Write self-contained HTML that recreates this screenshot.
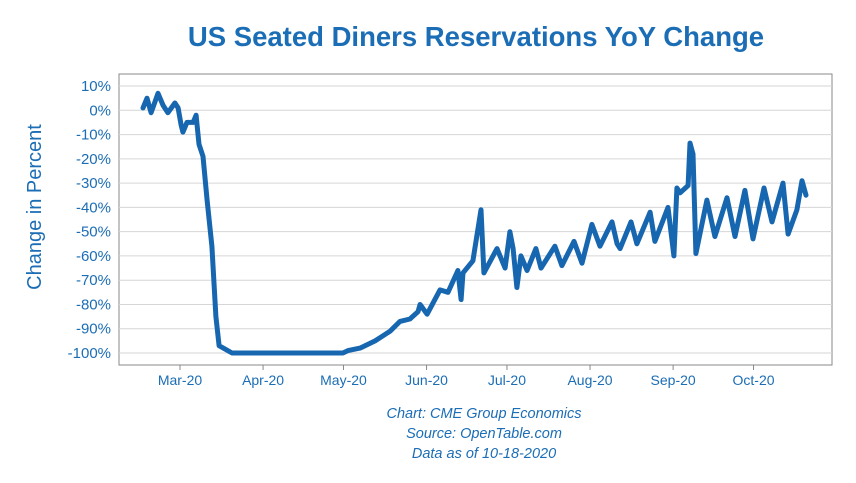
<!DOCTYPE html>
<html><head><meta charset="utf-8"><style>
body{margin:0;background:#fff;width:856px;height:478px;overflow:hidden}
text{font-family:"Liberation Sans",sans-serif}
</style></head><body>
<svg id="chart" width="856" height="478">
<text x="476" y="46" text-anchor="middle" font-size="27.5" font-weight="bold" fill="#1b6db5">US Seated Diners Reservations YoY Change</text>
<rect x="119" y="74" width="713" height="291" fill="none" stroke="#888" stroke-width="1"/>
<g id="grid"></g><g id="yt"></g><g id="xt"></g>
<text transform="translate(41,207) rotate(-90)" text-anchor="middle" font-size="20" fill="#1b6db5">Change in Percent</text>
<g font-size="14.5" font-style="italic" fill="#1b6db5" text-anchor="middle">
<text x="484" y="418">Chart: CME Group Economics</text>
<text x="484" y="438">Source: OpenTable.com</text>
<text x="484" y="458">Data as of 10-18-2020</text>
</g>
<path id="line" fill="none" stroke="#1766b0" stroke-width="5" stroke-linejoin="round" stroke-linecap="round"/>
</svg>
<script>
// days since 2020-03-01
const days=[-13.8,-12.3,-10.8,-8.2,-6.3,-4.5,-1.9,-0.7,0.4,1.1,2.6,4.9,6,7.1,8.6,10.1,11.9,13.4,14.6,19.4,60.8,62.7,67.2,72.8,78.4,82.1,85.8,88.8,89.6,92.2,97,100,103.7,104.9,105.6,109.3,112.3,113.4,118.3,121.3,123.1,124.3,125.7,127.2,129.5,132.8,134.7,139.9,142.5,147,150,153.7,156.7,161.2,163.1,164.2,168.3,170.5,175.4,177.2,182.1,184.3,185.4,186.6,189.6,190.3,191.4,192.5,196.6,199.6,204.1,207.1,210.8,213.8,217.9,220.9,225,226.9,230.2,232.1,233.6];
const values=[1,5,-1,7,2,-1,3,1,-6,-9,-5,-5,-2,-14,-19,-37,-56,-85,-97,-100,-100,-99,-98,-95,-91,-87,-86,-83,-80,-84,-74,-75,-66,-78,-67,-62,-41,-67,-57,-65,-50,-57,-73,-60,-66,-57,-65,-56,-64,-54,-63,-47,-56,-46,-55,-57,-46,-55,-42,-54,-40,-60,-32,-34,-31,-13.5,-18,-59,-37,-52,-36,-52,-33,-53,-32,-46,-30,-51,-41,-29,-35];
const yTicks=[10,0,-10,-20,-30,-40,-50,-60,-70,-80,-90,-100];
const monthLabels=["Mar-20","Apr-20","May-20","Jun-20","Jul-20","Aug-20","Sep-20","Oct-20"];
const monthDays=[0,31,61,92,122,153,184,214];
const X=d=>180+d*2.68, Y=v=>110.3-v*2.427;
const NS="http://www.w3.org/2000/svg";
const grid=document.getElementById('grid'),yt=document.getElementById('yt'),xt=document.getElementById('xt');
yTicks.forEach(v=>{
 const l=document.createElementNS(NS,'line');
 l.setAttribute('x1',119);l.setAttribute('x2',832);l.setAttribute('y1',Y(v));l.setAttribute('y2',Y(v));
 l.setAttribute('stroke','#d6d6d6');
 
 
 grid.appendChild(l);
 const t=document.createElementNS(NS,'text');
 t.setAttribute('x',111);t.setAttribute('y',Y(v)+5);t.setAttribute('text-anchor','end');
 t.setAttribute('font-size','15');t.setAttribute('fill','#1b6db5');t.textContent=v+'%';
 
 
 yt.appendChild(t);
});
monthLabels.forEach((m,i)=>{
 const x=X(monthDays[i]);
 const l=document.createElementNS(NS,'line');
 l.setAttribute('x1',x);l.setAttribute('x2',x);l.setAttribute('y1',365);l.setAttribute('y2',370);l.setAttribute('stroke','#888');
 
 
 xt.appendChild(l);
 const t=document.createElementNS(NS,'text');
 t.setAttribute('x',x);t.setAttribute('y',385);t.setAttribute('text-anchor','middle');
 t.setAttribute('font-size','14');t.setAttribute('fill','#1b6db5');t.textContent=m;
 
 
 xt.appendChild(t);
});
document.getElementById('line').setAttribute('d',days.map((d,i)=>(i?'L':'M')+X(d).toFixed(1)+','+Y(values[i]).toFixed(1)).join(''));
</script>
</body></html>
